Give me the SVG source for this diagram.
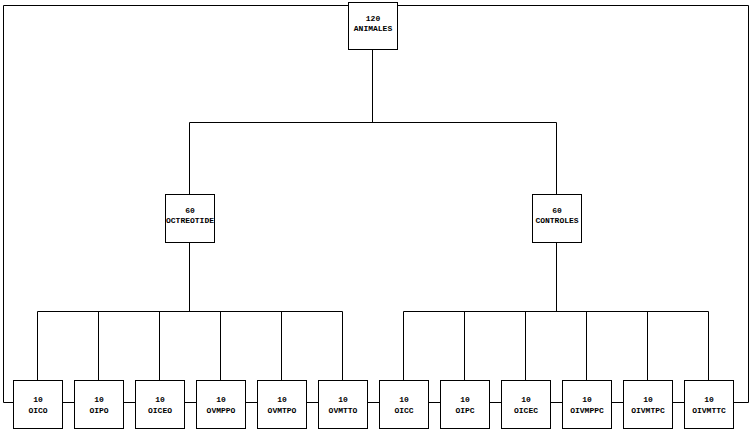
<svg xmlns="http://www.w3.org/2000/svg" width="754" height="434" viewBox="0 0 754 434">
<style>
.box{fill:#fff;stroke:#000;stroke-width:1}
.ln{fill:none;stroke:#000;stroke-width:1}
text{font-family:"Liberation Mono","DejaVu Sans Mono",monospace;font-size:8px;font-weight:bold;text-anchor:middle;fill:#000}
</style>
<rect width="754" height="434" fill="#fff"/>
<g id="connectors" class="ln">
<polyline points="348,5.5 3.5,5.5 3.5,402.5 13,402.5"/>
<polyline points="397,5.5 748.5,5.5 748.5,402.5 733,402.5"/>
<polyline points="372.5,50 372.5,122.5"/>
<polyline points="189.5,194 189.5,122.5 556.5,122.5 556.5,194"/>
<polyline points="189.5,243 189.5,311.5"/>
<polyline points="556.5,243 556.5,311.5"/>
<polyline points="37.5,380 37.5,311.5 342.5,311.5 342.5,380"/>
<line x1="98.5" y1="311.5" x2="98.5" y2="380"/>
<line x1="159.5" y1="311.5" x2="159.5" y2="380"/>
<line x1="220.5" y1="311.5" x2="220.5" y2="380"/>
<line x1="281.5" y1="311.5" x2="281.5" y2="380"/>
<polyline points="403.5,380 403.5,311.5 708.5,311.5 708.5,380"/>
<line x1="464.5" y1="311.5" x2="464.5" y2="380"/>
<line x1="525.5" y1="311.5" x2="525.5" y2="380"/>
<line x1="586.5" y1="311.5" x2="586.5" y2="380"/>
<line x1="647.5" y1="311.5" x2="647.5" y2="380"/>
<line x1="62" y1="402.5" x2="74" y2="402.5"/>
<line x1="123" y1="402.5" x2="135" y2="402.5"/>
<line x1="184" y1="402.5" x2="196" y2="402.5"/>
<line x1="245" y1="402.5" x2="257" y2="402.5"/>
<line x1="306" y1="402.5" x2="318" y2="402.5"/>
<line x1="367" y1="402.5" x2="379" y2="402.5"/>
<line x1="428" y1="402.5" x2="440" y2="402.5"/>
<line x1="489" y1="402.5" x2="501" y2="402.5"/>
<line x1="550" y1="402.5" x2="562" y2="402.5"/>
<line x1="611" y1="402.5" x2="623" y2="402.5"/>
<line x1="672" y1="402.5" x2="684" y2="402.5"/>
</g>
<g id="n-animales"><rect class="box" x="348.5" y="2.5" width="49" height="47"/><text x="373" y="21">120</text><text x="373" y="31">ANIMALES</text></g>
<g id="n-octreotide"><rect class="box" x="165.5" y="194.5" width="49" height="48"/><text x="190" y="213">60</text><text x="190" y="222.5">OCTREOTIDE</text></g>
<g id="n-controles"><rect class="box" x="532.5" y="194.5" width="49" height="48"/><text x="557" y="213">60</text><text x="557" y="222.5">CONTROLES</text></g>
<g id="n-oico"><rect class="box" x="13.5" y="380.5" width="49" height="48"/><text x="38" y="402">10</text><text x="38" y="412.5">OICO</text></g>
<g id="n-oipo"><rect class="box" x="74.5" y="380.5" width="49" height="48"/><text x="99" y="402">10</text><text x="99" y="412.5">OIPO</text></g>
<g id="n-oiceo"><rect class="box" x="135.5" y="380.5" width="49" height="48"/><text x="160" y="402">10</text><text x="160" y="412.5">OICEO</text></g>
<g id="n-ovmppo"><rect class="box" x="196.5" y="380.5" width="49" height="48"/><text x="221" y="402">10</text><text x="221" y="412.5">OVMPPO</text></g>
<g id="n-ovmtpo"><rect class="box" x="257.5" y="380.5" width="49" height="48"/><text x="282" y="402">10</text><text x="282" y="412.5">OVMTPO</text></g>
<g id="n-ovmtto"><rect class="box" x="318.5" y="380.5" width="49" height="48"/><text x="343" y="402">10</text><text x="343" y="412.5">OVMTTO</text></g>
<g id="n-oicc"><rect class="box" x="379.5" y="380.5" width="49" height="48"/><text x="404" y="402">10</text><text x="404" y="412.5">OICC</text></g>
<g id="n-oipc"><rect class="box" x="440.5" y="380.5" width="49" height="48"/><text x="465" y="402">10</text><text x="465" y="412.5">OIPC</text></g>
<g id="n-oicec"><rect class="box" x="501.5" y="380.5" width="49" height="48"/><text x="526" y="402">10</text><text x="526" y="412.5">OICEC</text></g>
<g id="n-oivmppc"><rect class="box" x="562.5" y="380.5" width="49" height="48"/><text x="587" y="402">10</text><text x="587" y="412.5">OIVMPPC</text></g>
<g id="n-oivmtpc"><rect class="box" x="623.5" y="380.5" width="49" height="48"/><text x="648" y="402">10</text><text x="648" y="412.5">OIVMTPC</text></g>
<g id="n-oivmttc"><rect class="box" x="684.5" y="380.5" width="49" height="48"/><text x="709" y="402">10</text><text x="709" y="412.5">OIVMTTC</text></g>
</svg>
